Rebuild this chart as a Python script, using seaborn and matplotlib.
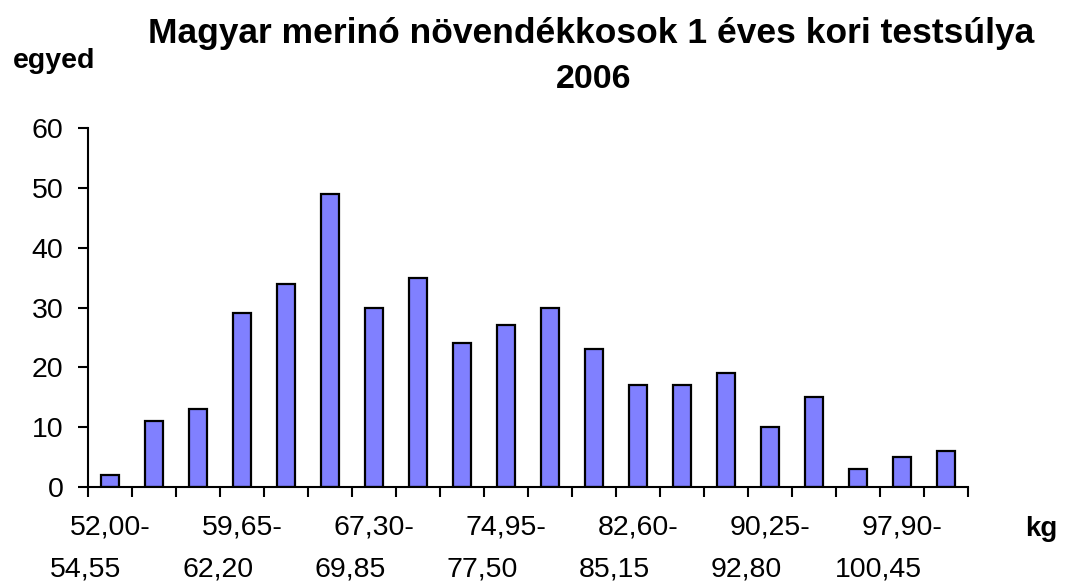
import matplotlib
matplotlib.use("Agg")
import matplotlib.pyplot as plt
import matplotlib.transforms as mtransforms
import seaborn as sns
import pandas as pd

bins = ["52,00-54,55", "54,55-57,10", "57,10-59,65", "59,65-62,20", "62,20-64,75",
        "64,75-67,30", "67,30-69,85", "69,85-72,40", "72,40-74,95", "74,95-77,50",
        "77,50-80,05", "80,05-82,60", "82,60-85,15", "85,15-87,70", "87,70-90,25",
        "90,25-92,80", "92,80-95,35", "95,35-97,90", "97,90-100,45", "100,45-103,00"]
counts = [2, 11, 13, 29, 34, 49, 30, 35, 24, 27, 30, 23, 17, 17, 19, 10, 15, 3, 5, 6]
label_every = 3

title_text = "Magyar merinó növendékkosok 1 éves kori testsúlya\n2006"
ylabel_text = "egyed"
xlabel_text = "kg"
yticks = [0, 10, 20, 30, 40, 50, 60]

sns.set_theme(style="white")
plt.rcParams['font.family'] = ['Liberation Sans', 'DejaVu Sans']
plt.rcParams.update({"text.color": "black", "xtick.color": "black",
                     "ytick.color": "black", "axes.labelcolor": "black",
                     "axes.edgecolor": "black"})

df = pd.DataFrame({"bin": bins, "count": counts})

W, H = 1066, 584
fig = plt.figure(figsize=(W/100, H/100), dpi=100)
ax = fig.add_axes([88/W, 1 - 487/H, (968-88)/W, (487-128)/H])

sns.barplot(data=df, x="bin", y="count", color="#8080FF", saturation=1,
            width=0.41, edgecolor="black", linewidth=1.6, ax=ax)

n = len(bins)
ax.set_xlim(-0.5, n - 0.5)
ax.set_ylim(0, 60)
ax.set_yticks(yticks)
ax.set_yticklabels([str(v) for v in yticks], fontsize=20.5)
ax.set_xticks([i - 0.5 for i in range(n + 1)])
ax.set_xticklabels([])
ax.tick_params(axis="x", direction="out", length=7.2, width=1.5, colors="black", bottom=True)
ax.tick_params(axis="y", direction="out", length=7.2, width=1.5, colors="black", pad=10.5, left=True)
ax.set_xlabel("")
ax.set_ylabel("")
for s in ["top", "right"]:
    ax.spines[s].set_visible(False)
for s in ["left", "bottom"]:
    ax.spines[s].set_color("black")
    ax.spines[s].set_linewidth(1.5)

trans = mtransforms.blended_transform_factory(ax.transData, ax.transAxes)
ah = 487 - 128
for i in range(0, n, label_every):
    a, b = bins[i].split("-")
    off2 = mtransforms.ScaledTranslation(-24/100, 0, fig.dpi_scale_trans)
    ax.text(i, -(535 - 487)/ah, a + "-", transform=trans, ha="center", va="baseline", fontsize=20.5)
    ax.text(i, -(576 - 487)/ah, b, transform=trans + off2, ha="center", va="baseline", fontsize=20.5)

lines = title_text.split("\n")
fig.text(591/W, 1 - 43/H, lines[0], ha="center", va="baseline", fontsize=25.5, fontweight="bold")
fig.text(594/W, 1 - 88/H, lines[1], ha="center", va="baseline", fontsize=24.5, fontweight="bold")
fig.text(54.5/W, 1 - 68/H, ylabel_text, ha="center", va="baseline", fontsize=20.5, fontweight="bold")
fig.text(1041/W, 1 - 536/H, xlabel_text, ha="center", va="baseline", fontsize=20, fontweight="bold")

fig.savefig("out.png", dpi=100)
